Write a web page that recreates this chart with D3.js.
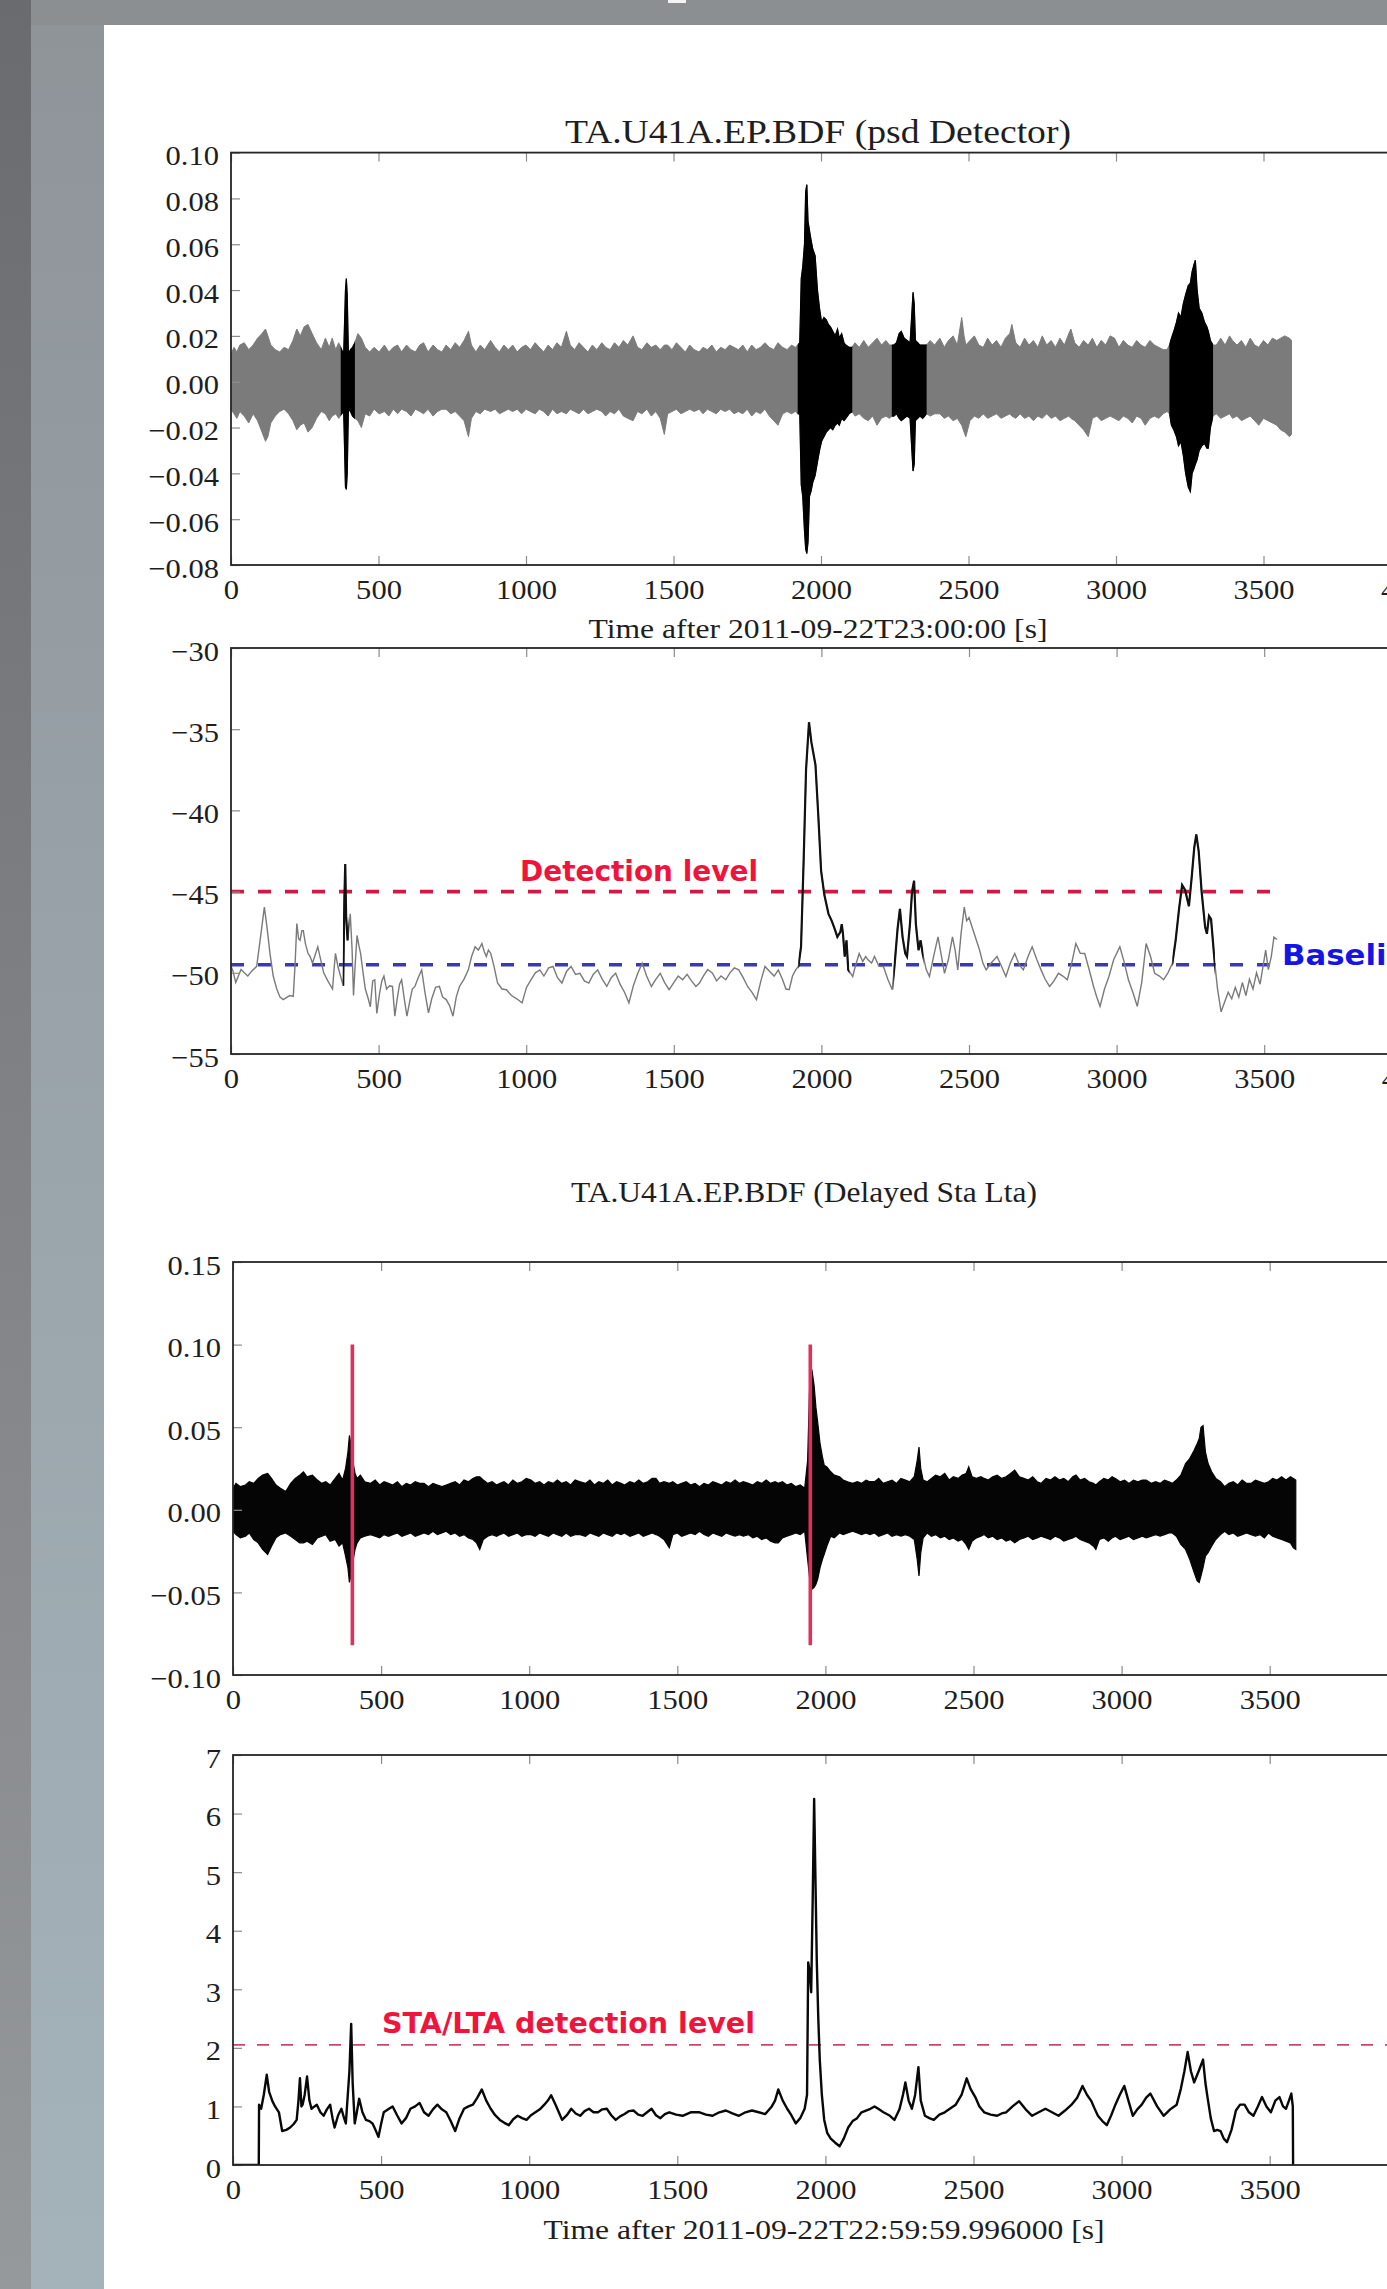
<!DOCTYPE html>
<html><head><meta charset="utf-8">
<script src="https://cdn.jsdelivr.net/npm/d3@7"></script>
<style>html,body{margin:0;padding:0;background:#8d9094;overflow:hidden}svg{display:block}</style>
</head><body>
<script>
// ---------------- DATA ----------------
const xTicks = [0, 500, 1000, 1500, 2000, 2500, 3000, 3500, 4000];
const p1YTicks = [0.10, 0.08, 0.06, 0.04, 0.02, 0.00, -0.02, -0.04, -0.06, -0.08];
const p2YTicks = [-30, -35, -40, -45, -50, -55];
const p3YTicks = [0.15, 0.10, 0.05, 0.00, -0.05, -0.10];
const p4YTicks = [0, 1, 2, 3, 4, 5, 6, 7];

const p1Title = "TA.U41A.EP.BDF (psd Detector)";
const p3Title = "TA.U41A.EP.BDF (Delayed Sta Lta)";
const p1XLabel = "Time after 2011-09-22T23:00:00 [s]";
const p4XLabel = "Time after 2011-09-22T22:59:59.996000 [s]";

// panel 1 waveform envelope: [time, upper, lower]
const p1Envelope = [
[0,.012,-.012],[10,.015,-.014],[20,.013,-.016],[30,.016,-.013],[45,.017,-.015],[60,.014,-.018],[75,.016,-.014],[90,.019,-.017],
[105,.021,-.022],[117,.023,-.026],[125,.02,-.024],[135,.016,-.018],[150,.014,-.015],[165,.013,-.013],[180,.015,-.012],[195,.014,-.014],
[210,.018,-.017],[223,.023,-.021],[235,.020,-.019],[248,.024,-.018],[261,.025,-.022],[275,.021,-.020],[290,.017,-.016],[306,.014,-.013],
[320,.019,-.014],[333,.015,-.017],[343,.019,-.015],[355,.014,-.014],[365,.017,-.016],[375,.014,-.014],[382,.012,-.013],[388,.040,-.046],
[391,.045,-.047],[394,.038,-.040],[398,.012,-.012],[405,.014,-.013],[412,.015,-.015],[420,.017,-.016],[430,.021,-.017],[442,.019,-.02],
[455,.015,-.014],[470,.013,-.015],[485,.015,-.012],[502,.013,-.014],[520,.016,-.013],[535,.013,-.015],[550,.015,-.012],[565,.016,-.014],
[578,.013,-.012],[595,.016,-.013],[610,.014,-.015],[625,.013,-.012],[640,.016,-.013],[653,.017,-.014],[668,.013,-.012],[685,.016,-.015],
[700,.014,-.013],[715,.013,-.012],[729,.016,-.012],[745,.014,-.014],[760,.017,-.013],[775,.015,-.015],[790,.018,-.017],[805,.022,-.024],
[815,.016,-.016],[830,.013,-.013],[845,.016,-.014],[860,.014,-.012],[880,.018,-.013],[895,.015,-.012],[910,.013,-.014],[925,.016,-.013],
[940,.014,-.012],[955,.016,-.013],[970,.013,-.012],[985,.015,-.014],[1000,.016,-.012],[1015,.014,-.013],[1031,.017,-.014],[1045,.015,-.012],
[1060,.013,-.013],[1075,.016,-.015],[1090,.014,-.012],[1105,.017,-.014],[1120,.015,-.013],[1137,.022,-.014],[1150,.016,-.012],[1165,.014,-.013],
[1180,.017,-.014],[1195,.015,-.012],[1210,.013,-.014],[1225,.016,-.013],[1240,.014,-.012],[1257,.017,-.013],[1270,.015,-.015],[1285,.014,-.013],
[1300,.017,-.014],[1315,.015,-.012],[1330,.018,-.015],[1345,.016,-.016],[1363,.02,-.017],[1378,.015,-.013],[1393,.014,-.014],[1410,.017,-.012],
[1425,.015,-.015],[1440,.016,-.013],[1455,.014,-.016],[1469,.016,-.023],[1480,.016,-.014],[1495,.014,-.013],[1510,.017,-.012],[1525,.015,-.014],
[1540,.013,-.013],[1555,.016,-.012],[1570,.014,-.013],[1587,.013,-.012],[1600,.015,-.014],[1615,.014,-.012],[1630,.016,-.013],[1645,.013,-.014],
[1660,.015,-.012],[1675,.014,-.013],[1690,.016,-.012],[1705,.015,-.014],[1720,.014,-.013],[1735,.016,-.014],[1750,.013,-.012],[1765,.016,-.015],
[1780,.014,-.013],[1795,.015,-.014],[1810,.017,-.012],[1825,.015,-.015],[1840,.014,-.017],[1854,.017,-.019],[1870,.015,-.014],[1885,.014,-.013],
[1900,.016,-.014],[1913,.015,-.013],[1921,.016,-.014],[1928,.017,-.014],[1933,.045,-.045],[1938,.05,-.05],[1944,.06,-.065],[1948,.083,-.073],
[1952,.086,-.075],[1956,.07,-.07],[1961,.066,-.05],[1966,.062,-.048],[1972,.058,-.044],[1980,.055,-.041],[1988,.04,-.035],[1995,.032,-.03],
[2002,.026,-.026],[2010,.028,-.024],[2018,.027,-.022],[2025,.025,-.021],[2032,.024,-.02],[2040,.022,-.021],[2048,.02,-.019],[2056,.023,-.018],
[2062,.019,-.019],[2070,.021,-.016],[2078,.017,-.017],[2084,.016,-.016],[2095,.015,-.014],[2106,.015,-.013],[2115,.017,-.015],[2130,.015,-.014],
[2145,.018,-.016],[2160,.015,-.017],[2175,.017,-.015],[2190,.019,-.019],[2205,.016,-.016],[2220,.018,-.015],[2232,.016,-.016],[2240,.016,-.015],
[2247,.016,-.015],[2256,.017,-.014],[2265,.021,-.016],[2272,.022,-.017],[2282,.019,-.016],[2292,.018,-.015],[2302,.017,-.016],[2308,.03,-.03],
[2312,.039,-.039],[2316,.034,-.036],[2320,.018,-.017],[2328,.017,-.016],[2335,.016,-.015],[2345,.016,-.016],[2358,.016,-.014],[2370,.018,-.015],
[2385,.016,-.014],[2403,.019,-.014],[2418,.015,-.016],[2432,.018,-.015],[2448,.02,-.017],[2462,.016,-.016],[2477,.028,-.019],[2485,.02,-.022],
[2491,.016,-.024],[2505,.018,-.017],[2520,.02,-.015],[2535,.016,-.016],[2550,.015,-.014],[2565,.019,-.016],[2580,.016,-.015],[2595,.018,-.014],
[2610,.015,-.016],[2625,.019,-.015],[2640,.021,-.014],[2647,.025,-.015],[2660,.017,-.016],[2675,.015,-.014],[2690,.019,-.016],[2705,.016,-.015],
[2720,.018,-.017],[2735,.015,-.015],[2750,.02,-.016],[2765,.016,-.014],[2780,.018,-.016],[2795,.015,-.015],[2810,.019,-.017],[2825,.016,-.016],
[2840,.021,-.015],[2847,.023,-.016],[2860,.017,-.017],[2875,.015,-.019],[2890,.018,-.021],[2906,.016,-.024],[2920,.019,-.016],[2935,.015,-.015],
[2950,.018,-.017],[2965,.016,-.016],[2980,.02,-.015],[2995,.019,-.016],[3010,.015,-.017],[3025,.018,-.015],[3040,.016,-.016],[3055,.015,-.018],
[3070,.018,-.015],[3085,.016,-.016],[3099,.015,-.019],[3115,.018,-.016],[3130,.016,-.015],[3145,.015,-.016],[3160,.014,-.014],[3173,.014,-.013],
[3181,.016,-.014],[3188,.019,-.019],[3196,.022,-.021],[3205,.026,-.024],[3212,.03,-.028],[3220,.028,-.026],[3228,.034,-.032],[3236,.038,-.04],
[3245,.042,-.046],[3252,.043,-.048],[3258,.048,-.04],[3264,.051,-.038],[3269,.053,-.036],[3275,.04,-.034],[3282,.032,-.03],[3291,.03,-.028],
[3300,.026,-.027],[3308,.024,-.029],[3313,.022,-.029],[3320,.018,-.02],[3329,.016,-.015],[3340,.016,-.014],[3355,.019,-.016],[3370,.016,-.015],
[3385,.02,-.014],[3395,.018,-.016],[3410,.016,-.015],[3425,.018,-.017],[3440,.015,-.016],[3455,.019,-.015],[3470,.016,-.017],[3484,.015,-.019],
[3500,.018,-.016],[3515,.016,-.017],[3530,.019,-.018],[3545,.018,-.019],[3558,.019,-.021],[3572,.02,-.022],[3588,.019,-.024],[3595,.018,-.023]
];
const p1Detections = [[372, 420], [1921, 2106], [2240, 2358], [3181, 3329]];

// panel 2 psd detector level (dB): [time, value]
const p2Series = [
[0,-49.6],[7,-49.9],[16,-50.6],[25,-50.2],[34,-49.8],[45,-50.0],[57,-50.2],[70,-49.9],[87,-49.6],[100,-47.8],[113,-45.96],[122,-47.2],
[132,-48.8],[143,-50.2],[155,-51.0],[166,-51.5],[177,-51.65],[190,-51.5],[200,-51.4],[211,-51.45],[217,-49.5],[223,-46.97],[229,-47.9],
[234,-48.0],[240,-47.4],[245,-47.4],[252,-48.2],[261,-48.8],[268,-49.0],[276,-49.4],[285,-48.9],[294,-48.4],[304,-49.2],[314,-50.0],
[328,-50.5],[344,-51.0],[349,-49.8],[354,-48.8],[362,-49.6],[374,-50.4],[380,-50.8],[384,-45.5],[387,-43.3],[390,-46.5],[395,-48.0],
[400,-47.2],[404,-46.37],[410,-48.5],[415,-51.4],[421,-49.4],[427,-47.7],[433,-48.3],[439,-48.8],[446,-49.8],[455,-51.0],[465,-51.6],
[472,-52.1],[480,-50.5],[487,-50.43],[494,-52.5],[503,-51.3],[511,-50.5],[518,-50.2],[527,-51.0],[537,-50.8],[547,-50.84],[555,-52.67],
[563,-51.6],[571,-50.7],[578,-50.43],[587,-51.6],[596,-52.67],[605,-51.8],[614,-51.0],[623,-50.84],[634,-50.3],[646,-49.82],[657,-51.2],
[669,-52.47],[680,-51.6],[693,-50.9],[706,-50.84],[717,-51.5],[729,-51.65],[740,-52.0],[752,-52.67],[763,-51.5],[774,-50.84],[789,-50.4],
[804,-49.82],[815,-49.0],[827,-48.4],[838,-48.6],[850,-48.2],[858,-48.7],[865,-49.0],[872,-48.6],[880,-48.81],[891,-49.6],[903,-50.63],
[918,-51.0],[933,-51.04],[950,-51.4],[968,-51.6],[986,-51.85],[1001,-50.9],[1016,-50.43],[1031,-50.0],[1046,-49.82],[1060,-50.2],[1076,-49.7],
[1091,-49.61],[1106,-50.3],[1121,-50.63],[1137,-49.9],[1152,-49.61],[1167,-50.1],[1182,-50.03],[1197,-50.5],[1212,-50.63],[1227,-50.1],
[1242,-49.82],[1258,-50.4],[1273,-50.84],[1288,-50.3],[1303,-50.03],[1318,-50.7],[1333,-51.2],[1348,-51.85],[1363,-50.8],[1378,-50.03],
[1393,-49.41],[1408,-50.2],[1424,-50.84],[1439,-50.4],[1454,-50.03],[1469,-50.6],[1484,-51.04],[1500,-50.6],[1515,-50.2],[1530,-50.43],
[1545,-50.1],[1560,-50.5],[1575,-50.84],[1587,-50.63],[1600,-50.2],[1615,-49.8],[1631,-50.03],[1645,-50.5],[1660,-50.2],[1676,-50.43],
[1690,-50.0],[1705,-49.7],[1720,-49.82],[1735,-50.3],[1750,-50.84],[1765,-51.2],[1780,-51.65],[1795,-50.5],[1809,-49.61],[1824,-49.9],
[1840,-50.2],[1854,-49.82],[1868,-50.4],[1880,-51.0],[1891,-51.04],[1902,-50.2],[1913,-49.82],[1922,-49.6],[1931,-48.4],[1940,-43.0],
[1948,-37.5],[1958,-34.57],[1966,-35.8],[1973,-36.5],[1980,-37.21],[1990,-40.5],[1999,-43.72],[2010,-45.2],[2024,-46.37],[2035,-46.8],
[2045,-47.3],[2054,-47.79],[2064,-47.5],[2069,-47.0],[2073,-47.58],[2079,-49.0],[2085,-48.0],[2091,-49.82],[2098,-50.0],[2106,-50.23],
[2115,-49.6],[2128,-48.81],[2140,-49.3],[2150,-49.0],[2158,-49.2],[2170,-49.4],[2180,-49.0],[2195,-49.6],[2210,-49.61],[2225,-50.4],
[2240,-51.04],[2248,-49.5],[2258,-47.3],[2266,-46.06],[2275,-47.8],[2284,-48.81],[2290,-49.0],[2300,-47.0],[2307,-45.0],[2314,-44.33],
[2320,-47.0],[2329,-48.61],[2336,-48.0],[2343,-48.81],[2355,-49.8],[2366,-50.23],[2380,-49.0],[2395,-47.79],[2405,-48.8],[2417,-50.03],
[2430,-49.2],[2444,-47.79],[2453,-48.6],[2462,-49.82],[2473,-47.6],[2484,-45.96],[2492,-46.8],[2500,-46.6],[2514,-47.38],[2525,-48.0],
[2536,-48.61],[2547,-49.4],[2558,-49.82],[2575,-49.4],[2595,-49.0],[2610,-49.6],[2625,-50.23],[2640,-49.4],[2655,-48.81],[2670,-49.5],
[2684,-49.82],[2700,-49.0],[2714,-48.4],[2730,-49.2],[2744,-49.82],[2758,-50.4],[2773,-50.84],[2788,-50.5],[2803,-50.03],[2818,-50.2],
[2833,-50.43],[2848,-49.4],[2862,-48.2],[2877,-48.8],[2892,-48.81],[2907,-49.8],[2922,-50.84],[2933,-51.5],[2944,-52.06],[2959,-51.0],
[2974,-50.23],[2990,-49.2],[3011,-48.4],[3025,-49.3],[3040,-50.43],[3055,-51.2],[3070,-52.06],[3085,-50.6],[3100,-48.2],[3115,-49.0],
[3129,-50.03],[3145,-50.2],[3159,-50.43],[3174,-50.0],[3189,-49.41],[3200,-48.0],[3212,-46.0],[3222,-44.6],[3232,-44.9],[3245,-45.9],
[3255,-44.0],[3263,-42.3],[3270,-41.48],[3278,-42.5],[3288,-45.0],[3300,-47.2],[3306,-47.6],[3313,-46.5],[3320,-46.7],[3326,-48.0],
[3333,-49.5],[3342,-51.0],[3354,-52.4],[3366,-51.8],[3378,-51.2],[3390,-51.6],[3402,-50.9],[3414,-51.5],[3426,-50.6],[3438,-51.4],
[3450,-50.4],[3462,-51.0],[3474,-50.0],[3486,-50.7],[3496,-49.6],[3505,-48.6],[3514,-49.8],[3524,-49.0],[3533,-47.8],[3543,-47.95]
];
const p2Detections = [[379, 399], [1922, 2095], [2244, 2346], [3189, 3333]];
const detectionLevel = -45;
const baselineLevel = -49.5;
const levelEnd = 3550;

// panel 3 waveform envelope: [time, upper, lower]
const p3Envelope = [
[0,.013,-.013],[10,.016,-.015],[25,.014,-.017],[42,.015,-.016],[55,.017,-.014],[70,.016,-.018],[85,.019,-.02],[100,.021,-.024],
[117,.022,-.027],[130,.019,-.022],[145,.015,-.017],[160,.013,-.015],[178,.011,-.014],[195,.016,-.016],[210,.019,-.018],[225,.021,-.02],
[238,.023,-.02],[250,.02,-.019],[268,.021,-.021],[285,.018,-.017],[300,.016,-.016],[313,.017,-.015],[328,.015,-.019],[345,.019,-.018],
[358,.022,-.022],[370,.018,-.02],[380,.025,-.028],[388,.035,-.035],[393,.045,-.044],[398,.04,-.04],[404,.03,-.032],[412,.022,-.024],
[419,.019,-.02],[430,.021,-.017],[445,.017,-.016],[464,.016,-.015],[480,.018,-.016],[495,.015,-.017],[510,.017,-.015],[525,.016,-.016],
[539,.015,-.015],[555,.017,-.014],[570,.014,-.016],[585,.016,-.015],[600,.015,-.014],[615,.017,-.016],[630,.016,-.015],[645,.016,-.014],
[660,.014,-.015],[675,.016,-.013],[690,.015,-.015],[705,.014,-.014],[720,.015,-.013],[735,.016,-.015],[750,.017,-.014],[765,.015,-.016],
[780,.018,-.015],[795,.017,-.017],[810,.019,-.018],[822,.02,-.02],[833,.02,-.024],[845,.018,-.018],[860,.016,-.016],[875,.017,-.015],
[890,.015,-.016],[901,.016,-.015],[915,.017,-.014],[930,.015,-.016],[945,.018,-.015],[960,.016,-.014],[975,.017,-.016],[990,.019,-.015],
[1006,.018,-.015],[1020,.016,-.016],[1035,.017,-.014],[1050,.015,-.015],[1065,.017,-.016],[1081,.016,-.014],[1095,.018,-.015],[1110,.016,-.016],
[1125,.017,-.014],[1140,.015,-.016],[1155,.018,-.015],[1172,.017,-.015],[1190,.016,-.016],[1205,.018,-.014],[1220,.015,-.015],[1235,.017,-.016],
[1250,.016,-.014],[1265,.018,-.015],[1280,.015,-.016],[1295,.017,-.014],[1310,.016,-.015],[1322,.015,-.014],[1340,.017,-.016],[1355,.016,-.015],
[1370,.018,-.014],[1385,.016,-.016],[1400,.017,-.015],[1415,.019,-.014],[1428,.019,-.015],[1440,.016,-.016],[1455,.017,-.018],[1473,.016,-.023],
[1485,.017,-.015],[1500,.015,-.014],[1515,.016,-.016],[1530,.017,-.015],[1545,.015,-.014],[1560,.016,-.015],[1575,.014,-.013],[1590,.016,-.015],
[1605,.015,-.016],[1620,.017,-.014],[1635,.016,-.015],[1650,.015,-.016],[1665,.017,-.014],[1680,.016,-.015],[1695,.018,-.016],[1710,.016,-.015],
[1723,.017,-.016],[1740,.016,-.015],[1755,.015,-.017],[1770,.017,-.016],[1785,.016,-.018],[1800,.018,-.017],[1815,.016,-.019],[1830,.017,-.02],
[1841,.016,-.02],[1855,.017,-.017],[1870,.015,-.016],[1885,.016,-.015],[1900,.014,-.014],[1915,.015,-.015],[1930,.013,-.013],[1940,.03,-.03],
[1946,.07,-.04],[1950,.088,-.048],[1955,.084,-.048],[1962,.075,-.047],[1968,.062,-.045],[1974,.053,-.042],[1982,.04,-.035],[1990,.032,-.03],
[1996,.027,-.027],[2005,.026,-.022],[2018,.023,-.016],[2030,.021,-.017],[2048,.02,-.014],[2060,.018,-.015],[2075,.017,-.014],[2092,.016,-.013],
[2108,.017,-.014],[2122,.016,-.015],[2137,.018,-.014],[2150,.017,-.015],[2166,.017,-.014],[2180,.019,-.016],[2195,.016,-.015],[2210,.017,-.014],
[2225,.018,-.016],[2240,.016,-.015],[2255,.019,-.016],[2270,.018,-.015],[2285,.017,-.016],[2300,.02,-.018],[2310,.03,-.03],[2316,.038,-.04],
[2322,.025,-.026],[2330,.018,-.017],[2344,.017,-.014],[2358,.019,-.016],[2372,.021,-.015],[2388,.02,-.017],[2403,.022,-.016],[2418,.018,-.018],
[2432,.02,-.017],[2448,.019,-.019],[2462,.021,-.018],[2475,.022,-.021],[2484,.026,-.024],[2495,.02,-.019],[2510,.019,-.017],[2525,.02,-.016],
[2536,.019,-.015],[2550,.018,-.017],[2565,.02,-.016],[2580,.021,-.018],[2595,.019,-.017],[2610,.02,-.019],[2625,.022,-.018],[2639,.024,-.02],
[2655,.02,-.018],[2670,.019,-.017],[2685,.018,-.016],[2700,.02,-.018],[2715,.017,-.017],[2728,.016,-.016],[2745,.019,-.017],[2760,.018,-.018],
[2775,.02,-.016],[2790,.018,-.017],[2805,.019,-.019],[2820,.017,-.018],[2835,.02,-.017],[2846,.021,-.016],[2860,.018,-.018],[2875,.019,-.019],
[2890,.017,-.02],[2905,.016,-.022],[2913,.015,-.024],[2925,.017,-.018],[2940,.019,-.017],[2955,.018,-.019],[2968,.02,-.017],[2979,.019,-.016],
[2995,.017,-.018],[3010,.018,-.017],[3025,.016,-.016],[3040,.018,-.018],[3055,.017,-.017],[3070,.018,-.016],[3083,.018,-.017],[3100,.016,-.016],
[3115,.017,-.015],[3130,.016,-.016],[3145,.018,-.015],[3160,.017,-.014],[3171,.016,-.014],[3185,.018,-.016],[3200,.021,-.021],[3216,.028,-.024],
[3230,.031,-.03],[3245,.036,-.038],[3255,.04,-.043],[3262,.043,-.044],[3268,.05,-.04],[3275,.051,-.035],[3283,.035,-.028],[3292,.028,-.026],
[3304,.023,-.022],[3318,.019,-.018],[3334,.017,-.015],[3348,.014,-.013],[3362,.016,-.015],[3377,.017,-.014],[3392,.015,-.016],[3407,.018,-.015],
[3422,.016,-.014],[3437,.016,-.015],[3452,.018,-.016],[3467,.017,-.015],[3482,.016,-.017],[3496,.017,-.014],[3510,.019,-.016],[3525,.018,-.017],
[3540,.02,-.018],[3555,.018,-.019],[3570,.02,-.02],[3580,.019,-.023],[3588,.018,-.024]
];
// triggers marked in panel 3: [time, top, bottom]
const p3Triggers = [[403, 0.10, -0.082], [1949, 0.10, -0.082]];

// panel 4 STA/LTA ratio: [time, value]
const p4Series = [
[0,0],[87,0],[88,1.03],[95,0.96],[104,1.2],[114,1.54],[122,1.25],[133,1.09],[142,1.0],[155,0.9],[166,0.58],[180,0.6],[193,0.64],
[205,0.7],[215,0.77],[221,1.1],[226,1.48],[231,1.0],[235,1.03],[242,1.2],[250,1.51],[258,1.1],[265,0.96],[275,1.0],[283,1.03],
[295,0.9],[306,0.84],[317,0.95],[328,1.03],[336,0.8],[343,0.64],[355,0.85],[366,0.96],[375,0.8],[381,0.71],[393,1.6],[399,2.41],
[404,1.4],[411,0.71],[418,0.9],[426,1.13],[437,0.9],[449,0.77],[460,0.75],[471,0.71],[481,0.6],[491,0.48],[500,0.7],[509,0.9],
[524,0.95],[539,1.0],[554,0.85],[569,0.71],[584,0.8],[599,0.96],[615,1.0],[630,1.06],[645,0.9],[660,0.84],[675,0.95],[690,1.03],
[705,0.95],[720,0.9],[735,0.75],[750,0.58],[765,0.8],[780,0.96],[795,1.0],[810,1.03],[825,1.15],[840,1.29],[855,1.1],[870,0.96],
[885,0.85],[901,0.77],[916,0.72],[931,0.68],[946,0.78],[961,0.84],[976,0.8],[991,0.77],[1006,0.85],[1021,0.9],[1036,0.95],[1051,1.03],
[1063,1.1],[1074,1.19],[1089,1.03],[1100,0.9],[1111,0.77],[1127,0.85],[1142,0.96],[1157,0.88],[1172,0.84],[1187,0.92],[1202,0.96],
[1217,0.9],[1232,0.9],[1247,0.95],[1262,0.96],[1277,0.85],[1292,0.77],[1307,0.83],[1322,0.87],[1337,0.92],[1352,0.93],[1368,0.86],
[1383,0.84],[1398,0.9],[1413,0.96],[1428,0.85],[1443,0.8],[1458,0.87],[1473,0.9],[1496,0.86],[1518,0.84],[1545,0.9],[1575,0.9],
[1597,0.86],[1619,0.84],[1642,0.9],[1664,0.93],[1686,0.88],[1708,0.84],[1730,0.9],[1752,0.93],[1775,0.9],[1797,0.87],[1819,1.0],
[1830,1.1],[1841,1.29],[1856,1.1],[1871,0.96],[1885,0.85],[1900,0.71],[1915,0.8],[1930,0.96],[1938,1.2],[1942,3.46],[1947,3.3],
[1952,2.95],[1957,4.5],[1962,6.25],[1966,5.0],[1971,3.46],[1976,2.5],[1981,1.8],[1988,1.2],[1996,0.77],[2006,0.55],[2018,0.45],
[2033,0.38],[2048,0.32],[2062,0.45],[2077,0.64],[2092,0.75],[2107,0.8],[2122,0.9],[2137,0.93],[2152,0.96],[2166,1.0],[2181,0.95],
[2196,0.9],[2215,0.85],[2233,0.77],[2250,0.95],[2262,1.2],[2270,1.41],[2281,1.1],[2292,0.96],[2303,1.2],[2314,1.67],[2322,1.1],
[2336,0.84],[2351,0.8],[2366,0.77],[2385,0.86],[2403,0.9],[2420,0.96],[2440,1.03],[2460,1.2],[2477,1.48],[2490,1.3],[2506,1.16],
[2520,1.0],[2536,0.9],[2558,0.86],[2580,0.84],[2595,0.88],[2610,0.9],[2632,1.0],[2654,1.09],[2676,0.95],[2698,0.84],[2720,0.9],
[2743,0.96],[2765,0.9],[2787,0.84],[2809,0.93],[2831,1.03],[2850,1.15],[2868,1.35],[2883,1.2],[2898,1.09],[2910,0.95],[2920,0.84],
[2935,0.75],[2950,0.68],[2965,0.85],[2979,1.03],[2994,1.2],[3009,1.35],[3023,1.1],[3038,0.84],[3053,0.95],[3068,1.03],[3083,1.15],
[3097,1.22],[3120,1.0],[3142,0.84],[3164,0.95],[3186,1.03],[3200,1.3],[3212,1.6],[3223,1.93],[3234,1.6],[3245,1.41],[3260,1.6],
[3275,1.8],[3283,1.4],[3290,1.16],[3301,0.8],[3312,0.58],[3323,0.6],[3334,0.58],[3345,0.45],[3356,0.39],[3371,0.6],[3386,0.93],
[3400,1.03],[3415,1.03],[3430,0.9],[3445,0.84],[3460,1.0],[3474,1.16],[3489,1.0],[3504,0.9],[3519,1.1],[3533,1.16],[3545,1.0],
[3555,0.96],[3565,1.1],[3573,1.22],[3578,1.0],[3579,0]
];
const staltaLevel = 2.05;

// ---------------- DRAWING ----------------
const W = 1387, H = 2289;
const svg = d3.select("body").append("svg").attr("width", W).attr("height", H);
const defs = svg.append("defs");

// slide background
const gL = defs.append("linearGradient").attr("id","gl").attr("x1",0).attr("y1",0).attr("x2",0).attr("y2",1);
gL.append("stop").attr("offset","0").attr("stop-color","#6a6b6e");
gL.append("stop").attr("offset","1").attr("stop-color","#96999b");
const gM = defs.append("linearGradient").attr("id","gm").attr("x1",0).attr("y1",0).attr("x2",0).attr("y2",1);
gM.append("stop").attr("offset","0").attr("stop-color","#8f9499");
gM.append("stop").attr("offset","0.5").attr("stop-color","#9aa5ab");
gM.append("stop").attr("offset","1").attr("stop-color","#a4b3ba");
svg.append("rect").attr("x",0).attr("y",0).attr("width",W).attr("height",H).attr("fill","#8c8f92");
svg.append("rect").attr("x",31).attr("y",25).attr("width",73).attr("height",H-25).attr("fill","url(#gm)");
svg.append("rect").attr("x",0).attr("y",0).attr("width",31).attr("height",H).attr("fill","url(#gl)");
svg.append("rect").attr("x",104).attr("y",25).attr("width",W-104).attr("height",H-25).attr("fill","#ffffff");
svg.append("rect").attr("x",668).attr("y",0).attr("width",18).attr("height",3).attr("fill","#f4f4f4");

const serif = "'Liberation Serif','Times New Roman',serif";
const sans = "'DejaVu Sans','Liberation Sans',sans-serif";
const minusFmt = d => d3.format(".2f")(d);

function panel(cfg) {
  const g = svg.append("g");
  const x = d3.scaleLinear().domain([0, 4000]).range([cfg.left, cfg.left + 4000 * cfg.k]);
  const y = d3.scaleLinear().domain(cfg.yDomain).range([cfg.bottom, cfg.top]);
  const x0 = x(0), x1 = x(4000), pw = x1 - x0, ph = cfg.bottom - cfg.top;
  const clipId = "clip" + cfg.id;
  defs.append("clipPath").attr("id", clipId).append("rect")
    .attr("x", x0).attr("y", cfg.top).attr("width", pw).attr("height", ph);
  const plot = g.append("g").attr("clip-path", `url(#${clipId})`);
  const tl = 9;
  const styleAxis = (sel, labels) => {
    sel.select(".domain").remove();
    sel.selectAll(".tick line").attr("stroke", "#8c8c8c").attr("stroke-width", 1.2);
    sel.attr("font-family", serif).attr("font-size", 28);
    sel.selectAll(".tick text").attr("fill", "#1e1e1e").classed("st", labels);
  };
  g.append("g").attr("transform", `translate(0,${cfg.bottom})`)
    .call(d3.axisBottom(x).tickValues(xTicks).tickSize(-tl).tickPadding(14).tickFormat(d3.format("d")))
    .call(s => styleAxis(s, true));
  g.append("g").attr("transform", `translate(0,${cfg.top})`)
    .call(d3.axisTop(x).tickValues(xTicks).tickSize(-tl).tickFormat(""))
    .call(s => styleAxis(s, false));
  g.append("g").attr("transform", `translate(${x0},0)`)
    .call(d3.axisLeft(y).tickValues(cfg.yTicks).tickSize(-tl).tickPadding(12).tickFormat(cfg.fmt))
    .call(s => { styleAxis(s, true); s.selectAll(".tick text").attr("dy", "0.43em"); });
  g.append("g").attr("transform", `translate(${x1},0)`)
    .call(d3.axisRight(y).tickValues(cfg.yTicks).tickSize(-tl).tickFormat(""))
    .call(s => styleAxis(s, false));
  return { g, plot, x, y, x0, x1, pw, ph, clipId, cfg };
}

function frame(p) {
  p.g.append("rect").attr("x", p.x0).attr("y", p.cfg.top).attr("width", p.pw).attr("height", p.ph)
    .attr("fill", "none").attr("stroke", "#262626").attr("stroke-width", 1.8);
}

function windowClip(p, wins, id) {
  const cp = defs.append("clipPath").attr("id", id);
  cp.selectAll("rect").data(wins).join("rect")
    .attr("x", d => p.x(d[0])).attr("width", d => p.x(d[1]) - p.x(d[0]))
    .attr("y", p.cfg.top).attr("height", p.ph);
  return `url(#${id})`;
}

// ---- Panel 1 ----
const P1 = panel({ id: 1, left: 231, k: 0.2950, top: 152.6, bottom: 565, yDomain: [-0.08, 0.10], yTicks: p1YTicks, fmt: minusFmt });
const area1 = d3.area().x(d => P1.x(d[0])).y0(d => P1.y(d[2])).y1(d => P1.y(d[1])).curve(d3.curveLinear);
P1.plot.append("path").datum(p1Envelope).attr("d", area1).attr("fill", "#7b7b7b").attr("stroke", "#7b7b7b").attr("stroke-width", 1);
P1.plot.append("g").attr("clip-path", windowClip(P1, p1Detections, "w1"))
  .append("path").datum(p1Envelope).attr("d", area1).attr("fill", "#000").attr("stroke", "#000").attr("stroke-width", 1.2);
frame(P1);
svg.append("text").attr("class", "fw").attr("data-w", 506).attr("x", 818).attr("y", 143).attr("text-anchor", "middle")
  .attr("font-family", serif).attr("font-size", 34).attr("fill", "#1e1e1e").text(p1Title);
svg.append("text").attr("class", "fw").attr("data-w", 459).attr("x", 818).attr("y", 638).attr("text-anchor", "middle")
  .attr("font-family", serif).attr("font-size", 28).attr("fill", "#1e1e1e").text(p1XLabel);

// ---- Panel 2 ----
const P2 = panel({ id: 2, left: 231, k: 0.2952, top: 648, bottom: 1054, yDomain: [-55, -30], yTicks: p2YTicks, fmt: d3.format("d") });
const line2 = d3.line().x(d => P2.x(d[0])).y(d => P2.y(d[1]));
P2.plot.append("line").attr("x1", P2.x(0)).attr("x2", P2.x(levelEnd)).attr("y1", P2.y(detectionLevel)).attr("y2", P2.y(detectionLevel))
  .attr("stroke", "#cf1a44").attr("stroke-width", 3.6).attr("stroke-dasharray", "13,14");
P2.plot.append("line").attr("x1", P2.x(0)).attr("x2", P2.x(levelEnd)).attr("y1", P2.y(baselineLevel)).attr("y2", P2.y(baselineLevel))
  .attr("stroke", "#3b37b8").attr("stroke-width", 3.6).attr("stroke-dasharray", "13,14");
P2.plot.append("path").datum(p2Series).attr("d", line2).attr("fill", "none").attr("stroke", "#7a7a7a").attr("stroke-width", 1.4);
P2.plot.append("g").attr("clip-path", windowClip(P2, p2Detections, "w2"))
  .append("path").datum(p2Series).attr("d", line2).attr("fill", "none").attr("stroke", "#111").attr("stroke-width", 2.2);
frame(P2);
svg.append("text").attr("class", "fw").attr("data-w", 238).attr("x", 520).attr("y", 881)
  .attr("font-family", sans).attr("font-weight", "bold").attr("font-size", 29).attr("fill", "#f0143c").text("Detection level");
svg.append("text").attr("class", "st2").attr("x", 1282).attr("y", 965)
  .attr("font-family", sans).attr("font-weight", "bold").attr("font-size", 28).attr("fill", "#1414e6").text("Baseline");

// ---- Panel 3 ----
const P3 = panel({ id: 3, left: 233, k: 0.2962, top: 1262, bottom: 1675, yDomain: [-0.10, 0.15], yTicks: p3YTicks, fmt: minusFmt });
const area3 = d3.area().x(d => P3.x(d[0])).y0(d => P3.y(d[2])).y1(d => P3.y(d[1]));
P3.plot.append("path").datum(p3Envelope).attr("d", area3).attr("fill", "#050505").attr("stroke", "#050505").attr("stroke-width", 1.2);
P3.plot.selectAll("line.trig").data(p3Triggers).join("line").attr("class", "trig")
  .attr("x1", d => P3.x(d[0])).attr("x2", d => P3.x(d[0])).attr("y1", d => P3.y(d[1])).attr("y2", d => P3.y(d[2]))
  .attr("stroke", "#e0305e").attr("stroke-width", 3.6);
frame(P3);
svg.append("text").attr("class", "fw").attr("data-w", 466).attr("x", 804).attr("y", 1202).attr("text-anchor", "middle")
  .attr("font-family", serif).attr("font-size", 30).attr("fill", "#1e1e1e").text(p3Title);

// ---- Panel 4 ----
const P4 = panel({ id: 4, left: 233, k: 0.2962, top: 1755, bottom: 2165, yDomain: [0, 7], yTicks: p4YTicks, fmt: d3.format("d") });
const line4 = d3.line().x(d => P4.x(d[0])).y(d => P4.y(d[1]));
P4.plot.append("line").attr("x1", P4.x(0)).attr("x2", P4.x(4000)).attr("y1", P4.y(staltaLevel)).attr("y2", P4.y(staltaLevel))
  .attr("stroke", "#c8486a").attr("stroke-width", 1.8).attr("stroke-dasharray", "12,12");
P4.plot.append("path").datum(p4Series).attr("d", line4).attr("fill", "none").attr("stroke", "#080808").attr("stroke-width", 2.4).attr("stroke-linejoin", "round");
frame(P4);
svg.append("text").attr("class", "fw").attr("data-w", 373).attr("x", 382).attr("y", 2033)
  .attr("font-family", sans).attr("font-weight", "bold").attr("font-size", 28).attr("fill", "#f0143c").text("STA/LTA detection level");
svg.append("text").attr("class", "fw").attr("data-w", 561).attr("x", 824).attr("y", 2239).attr("text-anchor", "middle")
  .attr("font-family", serif).attr("font-size", 28).attr("fill", "#1e1e1e").text(p4XLabel);

// horizontal stretching of text to match the reference typography
svg.selectAll("text.st").each(function () {
  const L = this.getComputedTextLength();
  this.setAttribute("textLength", (L * 1.09).toFixed(1));
  this.setAttribute("lengthAdjust", "spacingAndGlyphs");
});
svg.selectAll("text.st2").each(function () {
  const L = this.getComputedTextLength();
  this.setAttribute("textLength", (L * 1.1).toFixed(1));
  this.setAttribute("lengthAdjust", "spacingAndGlyphs");
});
svg.selectAll("text.fw").each(function () {
  this.setAttribute("textLength", this.getAttribute("data-w"));
  this.setAttribute("lengthAdjust", "spacingAndGlyphs");
});
</script>
</body></html>
